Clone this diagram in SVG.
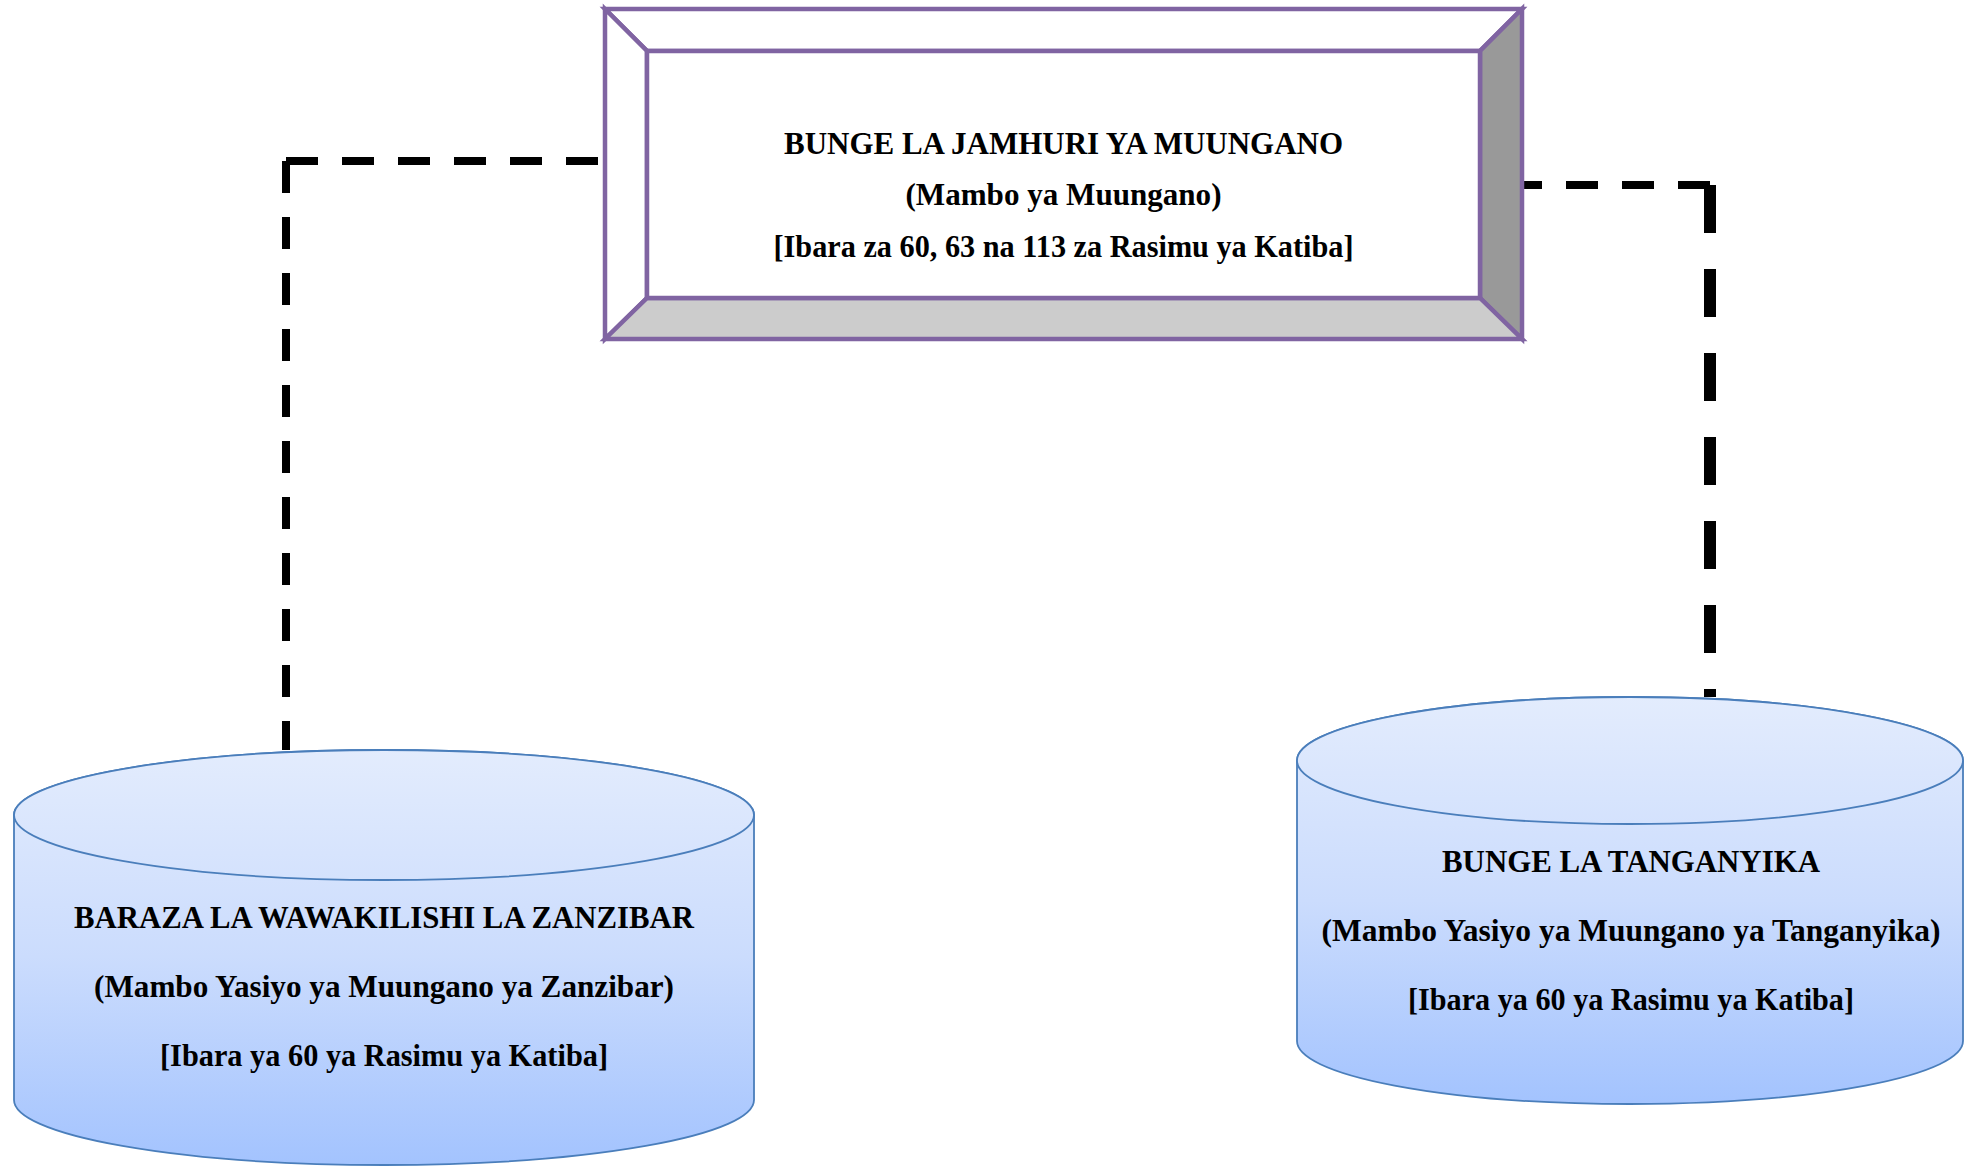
<svg xmlns="http://www.w3.org/2000/svg" width="1971" height="1169" viewBox="0 0 1971 1169">
<defs>
<style>
.bev{stroke:#8064A2;stroke-width:4.5;stroke-linejoin:miter}
.t{font-family:"Liberation Serif","DejaVu Serif",serif;font-weight:bold;font-size:31px;fill:#000;text-anchor:middle}
.cyl{stroke:#4A7EBB;stroke-width:1.8}
.shadow{fill:none;stroke:#8C8C8C;stroke-width:3.5;opacity:0.85}
.dash8{fill:none;stroke:#000;stroke-width:8;stroke-dasharray:32 24;stroke-linecap:butt}
.dash12{fill:none;stroke:#000;stroke-width:12;stroke-dasharray:48 36;stroke-linecap:butt}
</style>
<linearGradient id="gL" gradientUnits="userSpaceOnUse" x1="0" y1="749" x2="0" y2="1165">
<stop offset="0" stop-color="#E3ECFD"/>
<stop offset="0.5" stop-color="#CBDCFD"/>
<stop offset="1" stop-color="#A3C3FE"/>
</linearGradient>
<linearGradient id="gR" gradientUnits="userSpaceOnUse" x1="0" y1="697" x2="0" y2="1104">
<stop offset="0" stop-color="#E3ECFD"/>
<stop offset="0.5" stop-color="#CBDCFD"/>
<stop offset="1" stop-color="#A3C3FE"/>
</linearGradient>
</defs>
<rect width="1971" height="1169" fill="#FFFFFF"/>

<g id="connectors">
<path class="dash8" d="M 598 161 H 286"/>
<path class="dash8" d="M 286 161 V 750"/>
<path class="dash8" d="M 1710 185 H 1522"/>
<path class="dash12" d="M 1710 185 V 697"/>
</g>

<g id="node-bunge-jamhuri">
<polygon class="bev" fill="#FFFFFF" points="605,9 1522,9 1480,51 647,51"/>
<polygon class="bev" fill="#FFFFFF" points="605,9 647,51 647,298 605,339"/>
<polygon class="bev" fill="#999999" points="1522,9 1522,339 1480,298 1480,51"/>
<polygon class="bev" fill="#CCCCCC" points="605,339 647,298 1480,298 1522,339"/>
<rect class="bev" x="647" y="51" width="833" height="247" fill="#FFFFFF"/>
<text class="t" x="1063.5" y="154" textLength="559" lengthAdjust="spacingAndGlyphs">BUNGE LA JAMHURI YA MUUNGANO</text>
<text class="t" x="1063.5" y="205" textLength="316" lengthAdjust="spacingAndGlyphs">(Mambo ya Muungano)</text>
<text class="t" x="1063.5" y="257" textLength="580" lengthAdjust="spacingAndGlyphs">[Ibara za 60, 63 na 113 za Rasimu ya Katiba]</text>
</g>

<g id="node-baraza-zanzibar">
<path class="shadow" d="M 16 1104 A 370 65 0 0 0 752 1104"/>
<path class="cyl" fill="url(#gL)" d="M 14 815 V 1100 A 370 65 0 0 0 754 1100 V 815 A 370 65 0 0 0 14 815 Z"/>
<ellipse class="cyl" fill="url(#gL)" cx="384" cy="815" rx="370" ry="65"/>
<text class="t" x="384" y="928" textLength="620" lengthAdjust="spacingAndGlyphs">BARAZA LA WAWAKILISHI LA ZANZIBAR</text>
<text class="t" x="384" y="997" textLength="580" lengthAdjust="spacingAndGlyphs">(Mambo Yasiyo ya Muungano ya Zanzibar)</text>
<text class="t" x="384" y="1066" textLength="448" lengthAdjust="spacingAndGlyphs">[Ibara ya 60 ya Rasimu ya Katiba]</text>
</g>

<g id="node-bunge-tanganyika">
<path class="shadow" d="M 1299 1045 A 333 63 0 0 0 1961 1045"/>
<path class="cyl" fill="url(#gR)" d="M 1297 760.5 V 1041 A 333 63 0 0 0 1963 1041 V 760.5 A 333 63.5 0 0 0 1297 760.5 Z"/>
<ellipse class="cyl" fill="url(#gR)" cx="1630" cy="760.5" rx="333" ry="63.5"/>
<text class="t" x="1631" y="872" textLength="378" lengthAdjust="spacingAndGlyphs">BUNGE LA TANGANYIKA</text>
<text class="t" x="1631" y="941" textLength="619" lengthAdjust="spacingAndGlyphs">(Mambo Yasiyo ya Muungano ya Tanganyika)</text>
<text class="t" x="1631" y="1010" textLength="446" lengthAdjust="spacingAndGlyphs">[Ibara ya 60 ya Rasimu ya Katiba]</text>
</g>
</svg>
